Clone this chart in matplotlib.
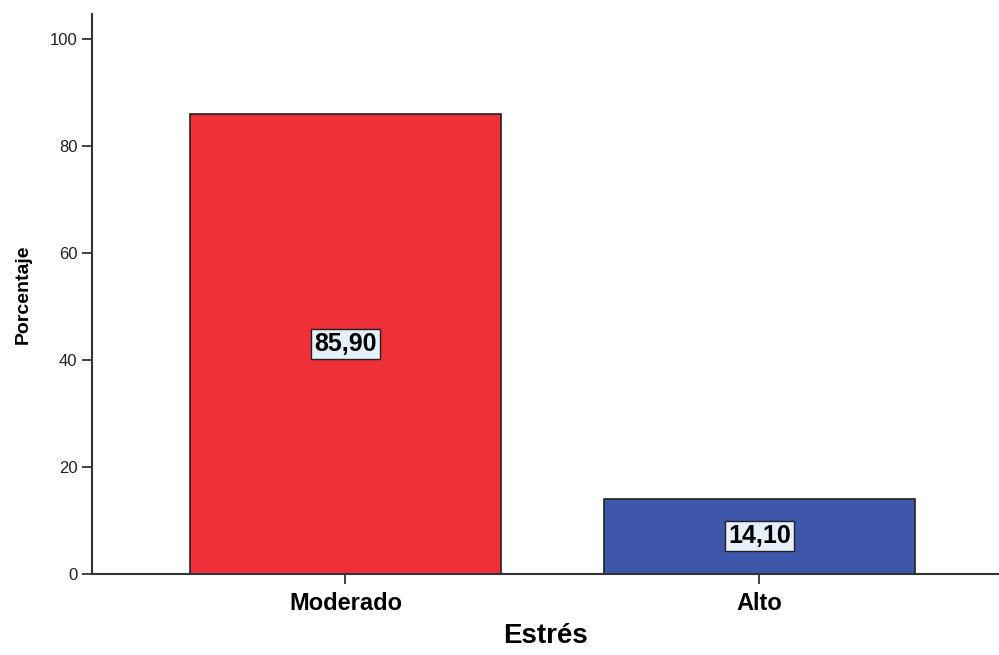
import numpy as np
import matplotlib.pyplot as plt

# datos
categorias = ["Moderado", "Alto"]
porcentajes = [85.90, 14.10]
etiquetas = ["85,90", "14,10"]
colores = ["#EF3038", "#3E57AA"]

plt.rcParams["font.family"] = ["Liberation Sans", "DejaVu Sans"]

fig = plt.figure(figsize=(9.99, 6.55), dpi=100)
ax = fig.add_axes([0.0921, 0.1237, 0.9069, 0.8549])

x = np.arange(len(categorias))
bars = ax.bar(x, porcentajes, width=0.75, color=colores, edgecolor="#222222", linewidth=1.2)

for b, lab in zip(bars, etiquetas):
    ax.text(b.get_x() + b.get_width() / 2, b.get_height() / 2, lab,
            ha="center", va="center", fontsize=18, fontweight="bold",
            bbox=dict(boxstyle="square,pad=0.12", facecolor="#E6F0FA",
                      edgecolor="#222222", linewidth=1))

ax.set_xlim(-0.612, 1.576)
ax.set_ylim(0, 104.67)
ax.set_yticks([0, 20, 40, 60, 80, 100])
ax.set_xticks(x)
ax.set_xticklabels(categorias, fontsize=17, fontweight="bold")
ax.tick_params(axis="y", labelsize=12, length=7, width=1.3, color="#333333", labelcolor="#222222")
ax.tick_params(axis="x", length=7, width=1.3, color="#333333", pad=6)

for s in ["top", "right"]:
    ax.spines[s].set_visible(False)
for s in ["left", "bottom"]:
    ax.spines[s].set_color("#333333")
    ax.spines[s].set_linewidth(1.5)

ax.set_xlabel("Estrés", fontsize=20, fontweight="bold", labelpad=6)
ax.set_ylabel("Porcentaje", fontsize=14, fontweight="bold", labelpad=13)

fig.savefig("out.png", dpi=100)
